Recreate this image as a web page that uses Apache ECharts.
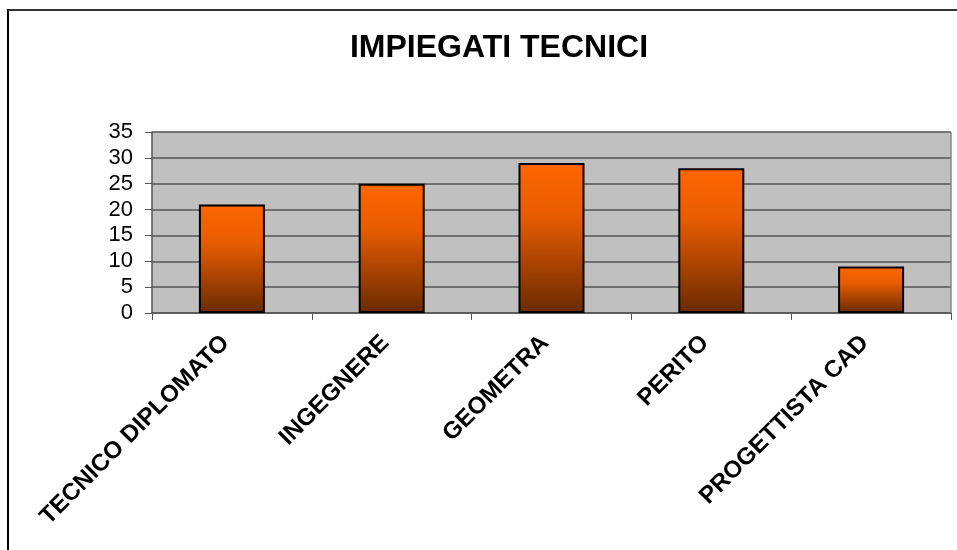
<!DOCTYPE html>
<html>
<head>
<meta charset="utf-8">
<script src="https://cdn.jsdelivr.net/npm/echarts@6/dist/echarts.min.js"></script>
<style>
html,body{margin:0;padding:0;background:#fff;}
#c{width:957px;height:550px;}
</style>
</head>
<body>
<div id="c"></div>
<script>
const categories = ["TECNICO DIPLOMATO", "INGEGNERE", "GEOMETRA", "PERITO", "PROGETTISTA CAD"];
const values = [21, 25, 29, 28, 9];
const titleText = "IMPIEGATI TECNICI";

const chart = echarts.init(document.getElementById('c'), null, {renderer: 'canvas'});
chart.setOption({
  animation: false,
  backgroundColor: '#ffffff',
  title: {
    text: titleText,
    left: 494, top: 27, textAlign: 'center',
    textStyle: {fontFamily: 'Liberation Sans, Arial', fontWeight: 'bold', fontSize: 32, color: '#000'}
  },
  graphic: [{
    type: 'line', shape: {x1: 8, y1: 10, x2: 960, y2: 10},
    style: {stroke: '#333', lineWidth: 2}, silent: true, z: 100
  }, {
    type: 'line', shape: {x1: 8, y1: 9, x2: 8, y2: 560},
    style: {stroke: '#000', lineWidth: 2}, silent: true, z: 100
  }, {
    type: 'line', shape: {x1: 951, y1: 132, x2: 951, y2: 313},
    style: {stroke: '#888', lineWidth: 1.5}, silent: true, z: 50
  }],
  grid: {left: 152, right: 6, top: 132, bottom: 237, backgroundColor: '#C0C0C0', show: true, borderWidth: 0},
  xAxis: {
    type: 'category', data: categories,
    axisLine: {show: true, lineStyle: {color: '#555', width: 1.5}},
    axisTick: {show: true, alignWithLabel: false, length: 7, lineStyle: {color: '#555', width: 1}},
    axisLabel: {
      rotate: 45, interval: 0, margin: 20, padding: [0, 9, 0, 0],
      fontFamily: 'Liberation Sans, Arial', fontWeight: 'bold', fontSize: 24, color: '#000'
    },
    splitLine: {show: false}
  },
  yAxis: {
    type: 'value', min: 0, max: 35, interval: 5,
    axisLine: {show: true, lineStyle: {color: '#555', width: 1.5}},
    axisTick: {show: true, length: 7, lineStyle: {color: '#555', width: 1}},
    axisLabel: {margin: 19, fontFamily: 'Liberation Sans, Arial', fontSize: 22, color: '#000'},
    splitLine: {show: true, lineStyle: {color: '#555', width: 1.5}}
  },
  series: [{
    type: 'bar', data: values,
    barWidth: 66,
    itemStyle: {
      borderColor: '#000', borderWidth: 2,
      color: new echarts.graphic.LinearGradient(0, 0, 0, 1, [
        {offset: 0, color: '#FF6600'},
        {offset: 0.35, color: '#E85C00'},
        {offset: 1, color: '#6A2A00'}
      ])
    }
  }]
});
</script>
</body>
</html>
